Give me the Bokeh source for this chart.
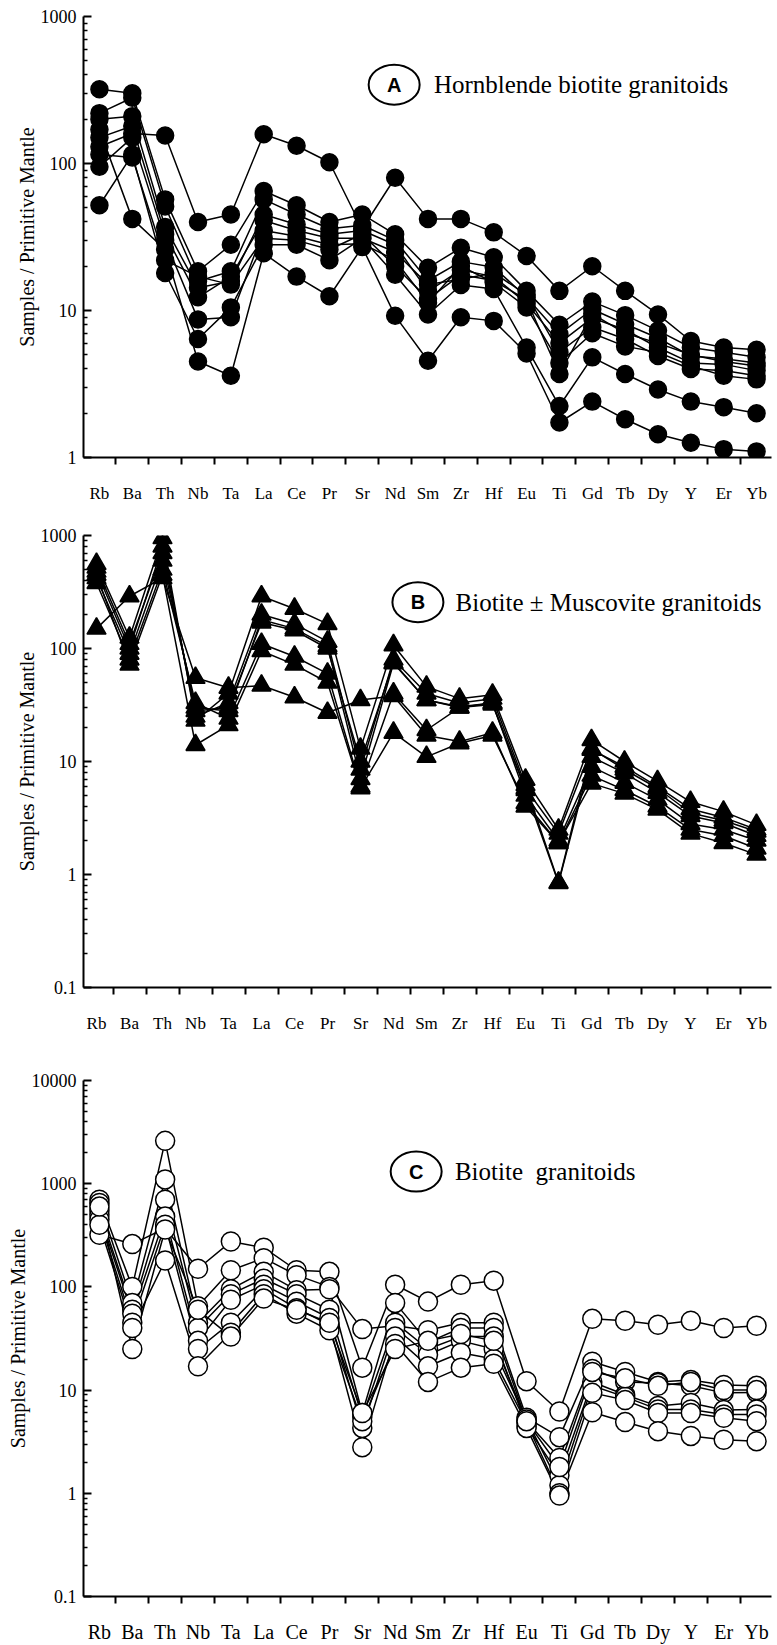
from bokeh.plotting import figure
from bokeh.layouts import column
from bokeh.models import FixedTicker, Range1d, CustomJSTickFormatter
from bokeh.core.properties import value
from bokeh.embed import file_html
from bokeh.resources import INLINE

elements = ["Rb", "Ba", "Th", "Nb", "Ta", "La", "Ce", "Pr", "Sr", "Nd", "Sm",
            "Zr", "Hf", "Eu", "Ti", "Gd", "Tb", "Dy", "Y", "Er", "Yb"]

# Panel A - Hornblende biotite granitoids
a1 = [130, 160, 155, 40, 45, 158, 132, 102, 36, 80, 42, 42, 34, 23.5, 13.6, 20, 13.6, 9.4, 6.2, 5.6, 5.4]
a2 = [320, 300, 57, 18.5, 28, 65, 52, 40, 45, 33, 19.5, 26.7, 23, 13.6, 8.0, 11.5, 9.3, 7.3, 5.6, 5.2, 4.8]
a3 = [220, 280, 51, 15.8, 18.5, 57, 45, 36, 38, 30, 16, 21.5, 19.7, 12.3, 6.9, 10.2, 8.1, 6.5, 4.9, 4.7, 4.4]
a4 = [200, 210, 37, 14.3, 15.8, 45, 38.5, 33, 35, 28, 13.5, 18.9, 17, 11.2, 6.0, 8.9, 7.4, 5.6, 4.4, 4.3, 3.9]
a5 = [150, 180, 33, 12.3, 17, 41, 35, 31, 31, 25, 15, 16.3, 18, 12.8, 5.2, 7.7, 6.4, 4.9, 4.0, 3.9, 3.6]
a6 = [95, 150, 30, 8.7, 9.0, 35, 32, 28, 28.5, 22, 11.3, 20, 15.5, 10.5, 4.4, 7.0, 5.7, 5.2, 4.2, 3.6, 3.4]
a7 = [115, 110, 22, 17, 15, 31, 30, 26, 33, 20, 12, 17.5, 16, 11.8, 3.7, 9.5, 7.0, 6.0, 5.0, 4.5, 4.2]
a8 = [52, 115, 18, 6.4, 10.5, 28, 28, 22, 31, 17.5, 9.4, 14.9, 14, 5.6, 2.24, 4.8, 3.7, 2.9, 2.4, 2.2, 2.0]
a9 = [170, 42, 26, 4.5, 3.6, 24.5, 17, 12.5, 27, 9.2, 4.55, 9.0, 8.5, 5.1, 1.73, 2.4, 1.82, 1.44, 1.26, 1.14, 1.1]
panel_a = [a1, a2, a3, a4, a5, a6, a7, a8, a9]

# Panel B - Biotite +/- Muscovite granitoids
b1 = [560, 125, 950, 23, 40, 290, 225, 165, 13, 107, 46, 36, 39, 6.9, 2.5, 15.5, 10, 6.7, 4.4, 3.6, 2.75]
b2 = [480, 100, 800, 25, 33, 200, 165, 115, 8.5, 80, 40, 33, 36, 6.2, 0.85, 12.7, 9.0, 6.0, 3.8, 3.2, 2.5]
b3 = [420, 90, 600, 30, 28, 180, 150, 105, 7.0, 74, 35, 30.5, 33, 5.6, 0.84, 11, 7.9, 5.3, 3.3, 2.86, 2.2]
b4 = [380, 80, 500, 33, 24, 110, 85, 60, 6.0, 40, 19, 30, 33, 5.0, 2.0, 9.0, 6.5, 4.6, 2.8, 2.5, 2.0]
b5 = [450, 72, 450, 14, 21, 95, 72, 50, 5.8, 18, 11, 14.5, 17, 4.3, 1.9, 7.5, 5.6, 4.0, 2.5, 2.2, 1.7]
b6 = [150, 290, 420, 55, 45, 47, 37, 27, 35, 38, 17, 15, 18, 4.0, 1.9, 6.4, 5.2, 3.75, 2.3, 1.9, 1.5]
b7 = [520, 110, 700, 28, 30, 170, 145, 100, 10, 75, 35, 30, 32, 5.8, 2.3, 13, 8.5, 5.8, 3.5, 3.0, 2.4]
panel_b = [b1, b2, b3, b4, b5, b6, b7]

# Panel C - Biotite granitoids
c1 = [320, 260, 370, 150, 275, 240, 145, 140, 16.5, 105, 72, 105, 115, 12.2, 6.2, 49, 47, 43, 47, 40, 42]
c2 = [700, 100, 2600, 65, 145, 190, 130, 100, 39, 42, 38, 45, 45, 5.4, 3.5, 18.8, 15, 12, 12.5, 11.2, 11]
c3 = [650, 70, 1100, 45, 95, 140, 93, 95, 6, 70, 29, 40, 40, 5.0, 2.2, 16, 12, 11.7, 11, 9.4, 9.5]
c4 = [550, 60, 700, 40, 85, 120, 85, 60, 5.5, 45, 25, 33, 33, 4.5, 1.5, 12, 9, 7, 7.5, 6.4, 6.5]
c5 = [500, 55, 480, 30, 75, 105, 72, 50, 4.3, 40, 22, 30, 25, 5.2, 1.2, 11, 8.6, 6.5, 6.5, 5.8, 5.8]
c6 = [450, 45, 400, 25, 45, 95, 62, 43, 2.8, 33, 17, 23, 20, 4.8, 1.0, 9.4, 8, 6, 6, 5.4, 5.0]
c7 = [400, 40, 180, 17, 36, 85, 55, 38, 5.0, 28, 12, 16.5, 18, 4.3, 0.95, 6.1, 4.9, 4.0, 3.6, 3.3, 3.2]
c8 = [600, 25, 360, 60, 33, 77, 60, 45, 6.0, 25, 30, 35, 30, 5.0, 1.8, 15, 13, 11, 12, 10, 10]
panel_c = [c1, c2, c3, c4, c5, c6, c7, c8]

SERIF = "Liberation Serif"
WIDTH = 777
DX = 33.0       # px per element
RB_PX = 96.0    # x of first element
RIGHT_PX = 771.0


def build(samples, lo_exp, hi_exp, height, b_top, b_bottom, frame_left, marker, size, fill,
          letter, caption, circ_x, circ_y, cap_x, xlabel_size):
    x0 = (frame_left - RB_PX) / DX
    x1 = (RIGHT_PX - RB_PX) / DX
    p = figure(width=WIDTH, height=height, y_axis_type="log", title=None,
               x_range=Range1d(x0, x1), y_range=Range1d(10.0 ** lo_exp, 10.0 ** hi_exp),
               output_backend="svg", toolbar_location=None,
               min_border_left=int(frame_left), min_border_right=int(WIDTH - RIGHT_PX),
               min_border_top=b_top, min_border_bottom=b_bottom)
    p.xgrid.visible = False
    p.ygrid.visible = False
    p.outline_line_color = None
    p.background_fill_color = "white"

    xa = p.xaxis[0]
    xa.ticker = FixedTicker(ticks=list(range(len(elements))),
                            minor_ticks=[i + 0.5 for i in range(len(elements) - 1)])
    xa.formatter = CustomJSTickFormatter(args=dict(names=elements), code="""
        const i = Math.round(tick);
        return (i >= 0 && i < names.length) ? names[i] : "";
    """)
    xa.major_tick_line_color = None
    xa.major_tick_in = 0
    xa.major_tick_out = 0
    xa.minor_tick_in = 0
    xa.minor_tick_out = 7
    xa.minor_tick_line_width = 2
    xa.minor_tick_line_color = "black"
    xa.axis_line_width = 2
    xa.axis_line_color = "black"
    xa.major_label_standoff = 19 if xlabel_size == "17px" else 17
    xa.major_label_text_font = SERIF
    xa.major_label_text_font_size = xlabel_size
    xa.major_label_text_color = "black"

    ya = p.yaxis[0]
    ya.ticker = FixedTicker(ticks=[10.0 ** e for e in range(lo_exp, hi_exp + 1)],
                            minor_ticks=[k * 10.0 ** e for e in range(lo_exp, hi_exp) for k in range(2, 10)])
    ya.formatter = CustomJSTickFormatter(code="""
        return tick >= 1 ? tick.toFixed(0) : tick.toString();
    """)
    ya.major_tick_in = 8
    ya.major_tick_out = 0
    ya.minor_tick_in = 4
    ya.minor_tick_out = 0
    ya.major_tick_line_width = 2
    ya.minor_tick_line_width = 1.5
    ya.axis_line_width = 2
    ya.major_label_standoff = 7
    ya.major_label_text_font = SERIF
    ya.major_label_text_font_size = "18px"
    ya.major_label_text_color = "black"
    ya.axis_label = "Samples / Primitive Mantle"
    ya.axis_label_text_font = SERIF
    ya.axis_label_text_font_size = "20px"
    ya.axis_label_text_font_style = "normal"
    ya.axis_label_text_color = "black"
    ya.axis_label_standoff = 0

    xs = list(range(len(elements)))
    for s in samples:
        p.line(xs, s, line_color="black", line_width=1.5)
    for s in samples:
        p.scatter(xs, s, marker=marker, size=size, fill_color=fill,
                  line_color="black", line_width=1.5)

    p.ellipse(x=[circ_x], y=[circ_y], width=51, height=40,
              width_units="screen", height_units="screen",
              fill_color=None, line_color="black", line_width=2)
    p.text(x=[circ_x], y=[circ_y], text=[letter], text_font=value("Liberation Sans"),
           text_font_style="bold", text_font_size="20px", text_align="center",
           text_baseline="middle", text_color="black")
    p.text(x=[cap_x], y=[circ_y], text=[caption], text_font=value(SERIF),
           text_font_size="25px", text_align="left", text_baseline="middle",
           text_color="black")
    return p


pa = build(panel_a, 0, 3, 507, 16, 50, 80, "circle", 17, "black",
           "A", "Hornblende biotite granitoids", 8.97, 344, 10.18, "17px")
pb = build(panel_b, -1, 3, 528, 28, 45, 83, "triangle", 19, "black",
           "B", "Biotite ± Muscovite granitoids", 9.74, 257, 10.88, "17px")
pc = build(panel_c, -1, 4, 610, 45, 44, 80, "circle", 19, "white",
           "C", "Biotite\u00a0 granitoids", 9.64, 1310, 10.82, "20px")

layout = column(pa, pb, pc)
open("out.html", "w").write(file_html(layout, INLINE))
